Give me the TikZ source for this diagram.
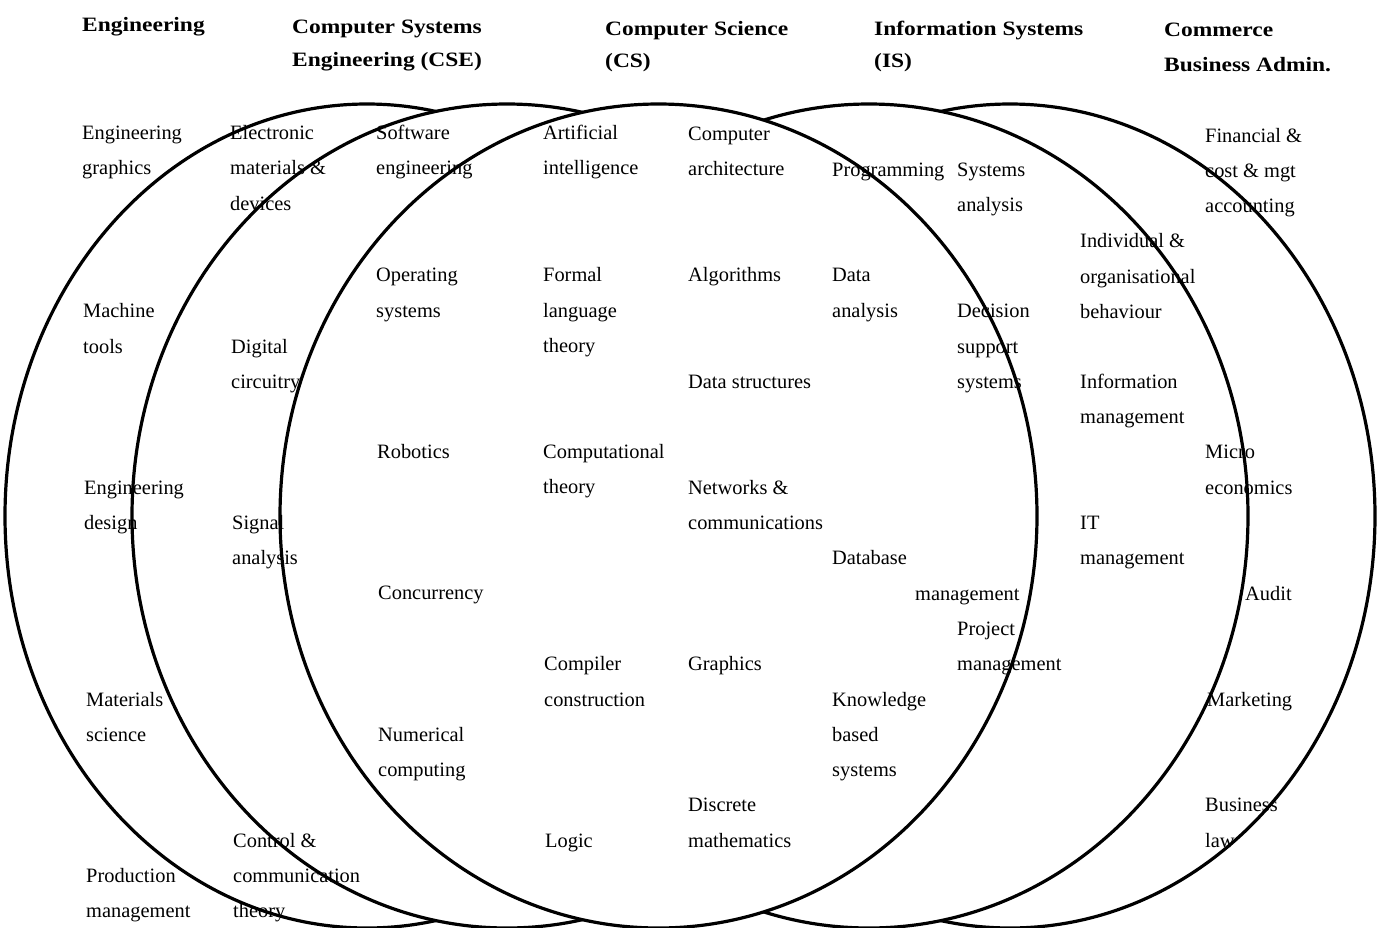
\documentclass[tikz,border=0pt]{standalone}
\usepackage{fontspec}
\setmainfont{Liberation Serif}
\newfontfamily\headfont{Liberation Serif}[FakeStretch=1.15]

% one label per text line; #1 name, #2 left x, #3 first row, #4 lines
\newcommand\topic[4]{%
  \foreach \t [count=\i from 0] in {#4} {%
    \node[lbl] (#1-\i) at (#2,{139.5+35.3*(#3+\i)}) {\t};}}

\begin{document}
\begin{tikzpicture}[x=1pt,y=-1pt,
  ring/.style={draw=black, line width=3.2pt, fill=white},
  lbl/.style={anchor=base west, inner sep=0pt, font=\fontsize{20.4}{24}\selectfont},
  hdr/.style={anchor=base west, inner sep=0pt, font=\headfont\bfseries\fontsize{20.4}{24}\selectfont}]
\useasboundingbox (0,0) rectangle (1377,927);

% overlapping discipline ellipses, outer ones first, centre one last
\begin{scope}
  \clip (0,0) rectangle (1377,927);
  \draw[ring] (367,516)   ellipse [x radius=362,   y radius=412];
  \draw[ring] (1010,516)  ellipse [x radius=365,   y radius=412];
  \draw[ring] (507,516)   ellipse [x radius=375,   y radius=412];
  \draw[ring] (869,516)   ellipse [x radius=379,   y radius=412];
  \draw[ring] (658.5,516) ellipse [x radius=378.5, y radius=412];
\end{scope}

% headings
\node[hdr] (h-eng)  at (82,31.7)   {Engineering};
\node[hdr] (h-cse1) at (292,33.3)  {Computer Systems};
\node[hdr] (h-cse2) at (292,66.7)  {Engineering (CSE)};
\node[hdr] (h-cs1)  at (605,35)    {Computer Science};
\node[hdr] (h-cs2)  at (605,67.7)  {(CS)};
\node[hdr] (h-is1)  at (874,35)    {Information Systems};
\node[hdr] (h-is2)  at (874,67.7)  {(IS)};
\node[hdr] (h-com1) at (1164,36)   {Commerce};
\node[hdr] (h-com2) at (1164,71)   {Business Admin.};

% Engineering
\topic{egr}{82}{0}{Engineering,graphics}
\topic{mch}{83}{5.05}{Machine,tools}
\topic{eds}{84}{10.05}{Engineering,design}
\topic{mat}{86}{16.05}{Materials,science}
\topic{prd}{86}{21.05}{Production,management}

% Computer systems engineering
\topic{ele}{230}{0}{Electronic,materials \&,devices}
\topic{dig}{231}{6.05}{Digital,circuitry}
\topic{sig}{232}{11.05}{Signal,analysis}
\topic{ctl}{233}{20.05}{Control \&,communication,theory}

\topic{swe}{376}{0}{Software,engineering}
\topic{ops}{376}{4.03}{Operating,systems}
\topic{rob}{377}{9.03}{Robotics}
\topic{con}{378}{13.04}{Concurrency}
\topic{num}{378}{17.05}{Numerical,computing}

% Computer science
\topic{ai}{543}{0}{Artificial,intelligence}
\topic{fl}{543}{4.03}{Formal,language,theory}
\topic{ct}{543}{9.03}{Computational,theory}
\topic{cc}{544}{15.05}{Compiler,construction}
\topic{log}{545}{20.05}{Logic}

\topic{arc}{688}{0.03}{Computer,architecture}
\topic{alg}{688}{4.03}{Algorithms}
\topic{ds}{688}{7.05}{Data structures}
\topic{net}{688}{10.05}{Networks \&,communications}
\topic{gfx}{688}{15.05}{Graphics}
\topic{dm}{688}{19.05}{Discrete,mathematics}

% Information systems
\topic{prg}{832}{1.05}{Programming}
\topic{da}{832}{4.03}{Data,analysis}
\topic{db}{832}{12.05}{Database}
\topic{kb}{832}{16.05}{Knowledge,based,systems}

\topic{sa}{957}{1.05}{Systems,analysis}
\topic{dss}{957}{5.05}{Decision,support,systems}
\topic{dbm}{915}{13.05}{management}
\topic{pm}{957}{14.05}{Project,management}

\topic{iob}{1080}{3.07}{Individual \&,organisational,behaviour}
\topic{im}{1080}{7.05}{Information,management}
\topic{itm}{1080}{11.05}{IT,management}

% Commerce
\topic{fin}{1205}{0.08}{Financial \&,cost \& mgt,accounting}
\topic{mic}{1205}{9.05}{Micro,economics}
\topic{aud}{1245}{13.05}{Audit}
\topic{mkt}{1207}{16.05}{Marketing}
\topic{law}{1205}{19.05}{Business,law}
\end{tikzpicture}
\end{document}
